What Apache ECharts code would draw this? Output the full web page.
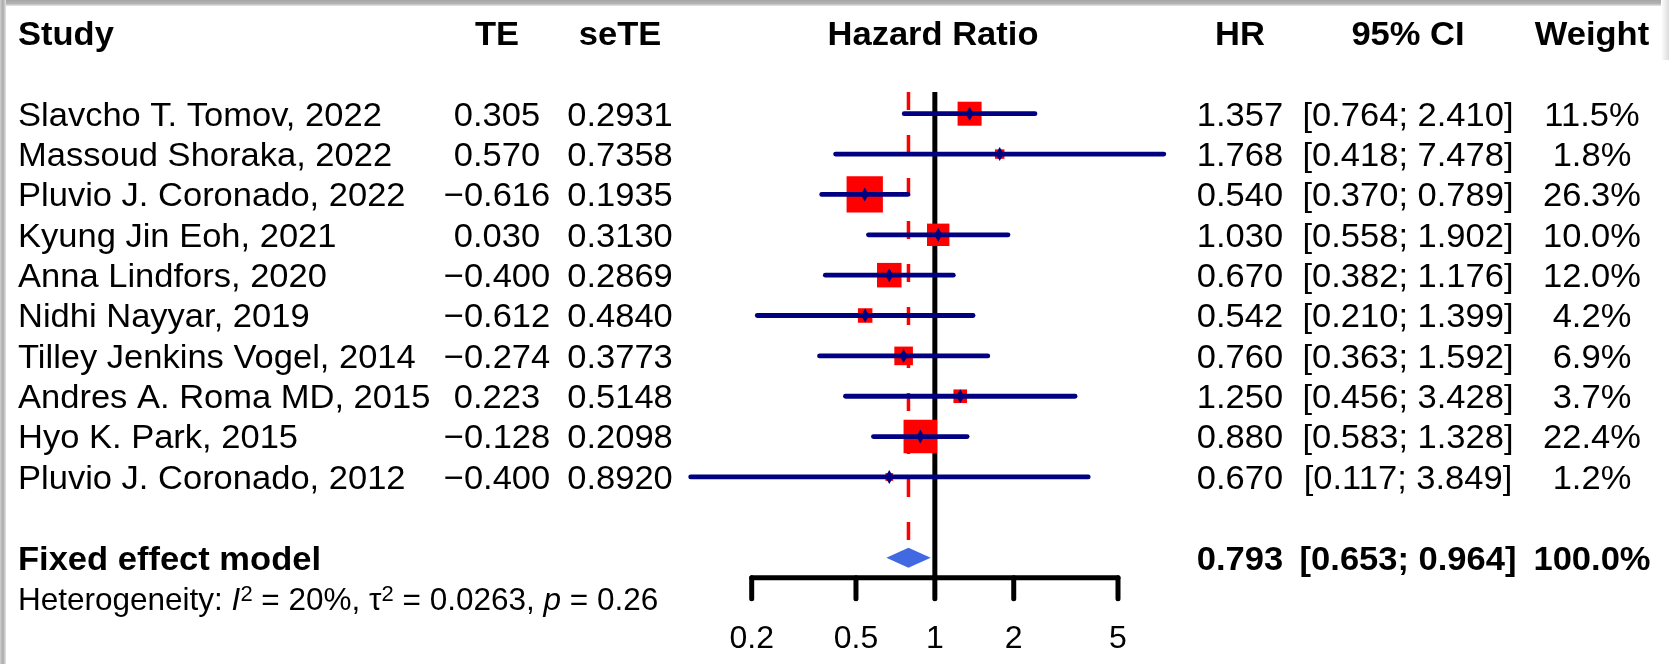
<!DOCTYPE html>
<html>
<head>
<meta charset="utf-8">
<title>Forest plot</title>
<script src="https://cdn.jsdelivr.net/npm/echarts@6/dist/echarts.min.js"></script>
<style>
  html, body { margin: 0; padding: 0; background: #fff; }
  #chart { width: 1669px; height: 671px; }
</style>
</head>
<body>
<div id="chart"></div>
<script>
// study level data
const studies = ['Slavcho T. Tomov, 2022', 'Massoud Shoraka, 2022', 'Pluvio J. Coronado, 2022',
  'Kyung Jin Eoh, 2021', 'Anna Lindfors, 2020', 'Nidhi Nayyar, 2019', 'Tilley Jenkins Vogel, 2014',
  'Andres A. Roma MD, 2015', 'Hyo K. Park, 2015', 'Pluvio J. Coronado, 2012']
const te = [0.305, 0.570, -0.616, 0.030, -0.400, -0.612, -0.274, 0.223, -0.128, -0.400]
const seTE = [0.2931, 0.7358, 0.1935, 0.3130, 0.2869, 0.4840, 0.3773, 0.5148, 0.2098, 0.8920]
const hr = [1.357, 1.768, 0.540, 1.030, 0.670, 0.542, 0.760, 1.250, 0.880, 0.670]
const lower = [0.764, 0.418, 0.370, 0.558, 0.382, 0.210, 0.363, 0.456, 0.583, 0.117]
const upper = [2.410, 7.478, 0.789, 1.902, 1.176, 1.399, 1.592, 3.428, 1.328, 3.849]
const weight = [11.5, 1.8, 26.3, 10.0, 12.0, 4.2, 6.9, 3.7, 22.4, 1.2]

// fixed effect model
const pooledHR = 0.793
const pooledLower = 0.653
const pooledUpper = 0.964
const pooledWeight = 100.0

// x axis ticks
const tickValues = [0.2, 0.5, 1, 2, 5]
const tickLabels = ['0.2', '0.5', '1', '2', '5']

const FONT = '"Liberation Sans", Arial, Helvetica, sans-serif'
const fmt = (v, d) => (v < 0 ? '\u2212' : '') + Math.abs(v).toFixed(d)

// rows: 0 header, 2..11 studies, 13 pooled, 14 heterogeneity, 15 tick labels
const studyRow = i => i + 2
const pooledRow = 13
const axisRow = 13.5
const tickEndRow = 14.02
const labelRow = 15
const textShift = 2.5 // text sits a little under the row centre

// text cells of the table
const col = { study: 18, te: 497, sete: 620, hrPlot: 933, hr: 1240, ci: 1408, w: 1592 }
const cells = []
const addCell = (x, row, text, bold, align) => cells.push({ x, row, text, bold, align })
addCell(col.study, 0, 'Study', true, 'left')
addCell(col.te, 0, 'TE', true, 'center')
addCell(col.sete, 0, 'seTE', true, 'center')
addCell(col.hrPlot, 0, 'Hazard Ratio', true, 'center')
addCell(col.hr, 0, 'HR', true, 'center')
addCell(col.ci, 0, '95% CI', true, 'center')
addCell(col.w, 0, 'Weight', true, 'center')
studies.forEach((s, i) => {
  const r = studyRow(i)
  addCell(col.study, r, s, false, 'left')
  addCell(col.te, r, fmt(te[i], 3), false, 'center')
  addCell(col.sete, r, seTE[i].toFixed(4), false, 'center')
  addCell(col.hr, r, hr[i].toFixed(3), false, 'center')
  addCell(col.ci, r, '[' + lower[i].toFixed(3) + '; ' + upper[i].toFixed(3) + ']', false, 'center')
  addCell(col.w, r, weight[i].toFixed(1) + '%', false, 'center')
})
addCell(col.study, pooledRow, 'Fixed effect model', true, 'left')
addCell(col.hr, pooledRow, pooledHR.toFixed(3), true, 'center')
addCell(col.ci, pooledRow, '[' + pooledLower.toFixed(3) + '; ' + pooledUpper.toFixed(3) + ']', true, 'center')
addCell(col.w, pooledRow, pooledWeight.toFixed(1) + '%', true, 'center')

const lg = Math.log10
const chart = echarts.init(document.getElementById('chart'))

const option = {
  backgroundColor: '#fff',
  animation: false,
  grid: { left: 751.7, right: 551, top: 33, bottom: 32.6 },
  xAxis: { type: 'value', min: lg(0.2), max: lg(5), show: false },
  yAxis: { type: 'value', min: 0, max: 15, inverse: true, show: false },
  graphic: [
    // screenshot frame shading
    { type: 'rect', left: 0, top: 0, shape: { width: 1669, height: 6 },
      style: { fill: new echarts.graphic.LinearGradient(0, 0, 0, 1, [
        { offset: 0, color: '#a6a6a6' }, { offset: 0.6, color: '#b4b4b4' }, { offset: 1, color: '#e8e8e8' }]) } },
    { type: 'rect', left: 0, top: 0, shape: { width: 6, height: 664 },
      style: { fill: new echarts.graphic.LinearGradient(0, 0, 1, 0, [
        { offset: 0, color: '#cfcfcf' }, { offset: 0.5, color: '#aaaaaa' }, { offset: 1, color: '#e4e4e4' }]) } },
    { type: 'rect', right: 0, top: 0, shape: { width: 8, height: 60 },
      style: { fill: new echarts.graphic.LinearGradient(0, 0, 1, 0, [
        { offset: 0, color: '#ffffff' }, { offset: 1, color: '#dcdcdc' }]) } }
  ],
  series: [
    {
      // reference lines: null effect and fixed effect estimate
      type: 'custom',
      silent: true,
      data: [[0]],
      renderItem (params, api) {
        const a = api.coord([0, 1.46])
        const b = api.coord([0, axisRow])
        const c = api.coord([lg(pooledHR), 1.46])
        const d = api.coord([lg(pooledHR), pooledRow - 0.25])
        return {
          type: 'group',
          children: [
            { type: 'line', shape: { x1: a[0], y1: a[1], x2: b[0], y2: b[1] },
              style: { stroke: '#000', lineWidth: 5 } },
            { type: 'line', shape: { x1: c[0], y1: c[1], x2: d[0], y2: d[1] },
              style: { stroke: '#ff0000', lineWidth: 3.5, lineDash: [18, 25] } }
          ]
        }
      }
    },
    {
      // study squares, confidence intervals, point estimates
      type: 'custom',
      silent: true,
      data: studies.map((s, i) => [lg(lower[i]), lg(upper[i]), lg(hr[i]), studyRow(i), weight[i]]),
      renderItem (params, api) {
        const row = api.value(3)
        const lo = api.coord([api.value(0), row])
        const hi = api.coord([api.value(1), row])
        const pt = api.coord([api.value(2), row])
        const side = 7.08 * Math.sqrt(api.value(4))
        return {
          type: 'group',
          children: [
            { type: 'rect', shape: { x: pt[0] - side / 2, y: pt[1] - side / 2, width: side, height: side },
              style: { fill: '#ff0000' } },
            { type: 'line', shape: { x1: lo[0], y1: lo[1], x2: hi[0], y2: hi[1] },
              style: { stroke: '#000080', lineWidth: 4.8, lineCap: 'round' } },
            { type: 'polygon', shape: { points: [[pt[0], pt[1] - 7], [pt[0] + 4, pt[1]], [pt[0], pt[1] + 7], [pt[0] - 4, pt[1]]] },
              style: { fill: '#000080' } }
          ]
        }
      }
    },
    {
      // pooled diamond
      type: 'custom',
      silent: true,
      data: [[lg(pooledLower), lg(pooledHR), lg(pooledUpper), pooledRow]],
      renderItem (params, api) {
        const row = api.value(3)
        const l = api.coord([api.value(0), row])
        const m = api.coord([api.value(1), row])
        const r = api.coord([api.value(2), row])
        const h = 10
        return {
          type: 'polygon',
          shape: { points: [[l[0], l[1]], [m[0], m[1] - h], [r[0], r[1]], [m[0], m[1] + h]] },
          style: { fill: '#4169e1' }
        }
      }
    },
    {
      // x axis drawn on the log scale
      type: 'custom',
      silent: true,
      data: tickValues.map(v => [lg(v)]),
      renderItem (params, api) {
        const x = api.value(0)
        const top = api.coord([x, axisRow])
        const bot = api.coord([x, tickEndRow])
        const lab = api.coord([x, labelRow])
        const children = [
          { type: 'line', shape: { x1: top[0], y1: top[1], x2: bot[0], y2: bot[1] },
            style: { stroke: '#000', lineWidth: 5, lineCap: 'round' } },
          { type: 'text', x: lab[0], y: lab[1] + 1,
            style: { text: tickLabels[params.dataIndex], fill: '#000', font: '32px ' + FONT, align: 'center', verticalAlign: 'middle' } }
        ]
        if (params.dataIndex === 0) {
          const s = api.coord([lg(tickValues[0]), axisRow])
          const e = api.coord([lg(tickValues[tickValues.length - 1]), axisRow])
          children.push({ type: 'line', shape: { x1: s[0], y1: s[1], x2: e[0], y2: e[1] },
            style: { stroke: '#000', lineWidth: 5, lineCap: 'round' } })
        }
        return { type: 'group', children }
      }
    },
    {
      // table text
      type: 'custom',
      silent: true,
      data: cells.map(c => [0, c.row]),
      renderItem (params, api) {
        const c = cells[params.dataIndex]
        const y = api.coord([0, api.value(1)])[1] + textShift
        return {
          type: 'text', x: c.x, y, scaleX: 1.015,
          style: {
            text: c.text, fill: '#000',
            font: (c.bold ? 'bold ' : '') + '34px ' + FONT,
            align: c.align, verticalAlign: 'middle'
          }
        }
      }
    },
    {
      // heterogeneity statistics
      type: 'custom',
      silent: true,
      data: [[0, 14]],
      renderItem (params, api) {
        const y = api.coord([0, api.value(1)])[1] + textShift + 1
        return {
          type: 'text', x: col.study, y,
          style: {
            text: '{n|Heterogeneity: }{i|I}{s|2}{n| = 20%, \u03c4}{s|2}{n| = 0.0263, }{i|p}{n| = 0.26}',
            align: 'left', verticalAlign: 'middle',
            rich: {
              n: { fontSize: 31.5, fontFamily: FONT, fill: '#000', lineHeight: 36, verticalAlign: 'middle' },
              i: { fontSize: 31.5, fontFamily: FONT, fontStyle: 'italic', fill: '#000', lineHeight: 36, verticalAlign: 'middle' },
              s: { fontSize: 22, fontFamily: FONT, fill: '#000', lineHeight: 22, verticalAlign: 'top' }
            }
          }
        }
      }
    }
  ]
}

chart.setOption(option)
window.addEventListener('resize', () => chart.resize())
</script>
</body>
</html>
